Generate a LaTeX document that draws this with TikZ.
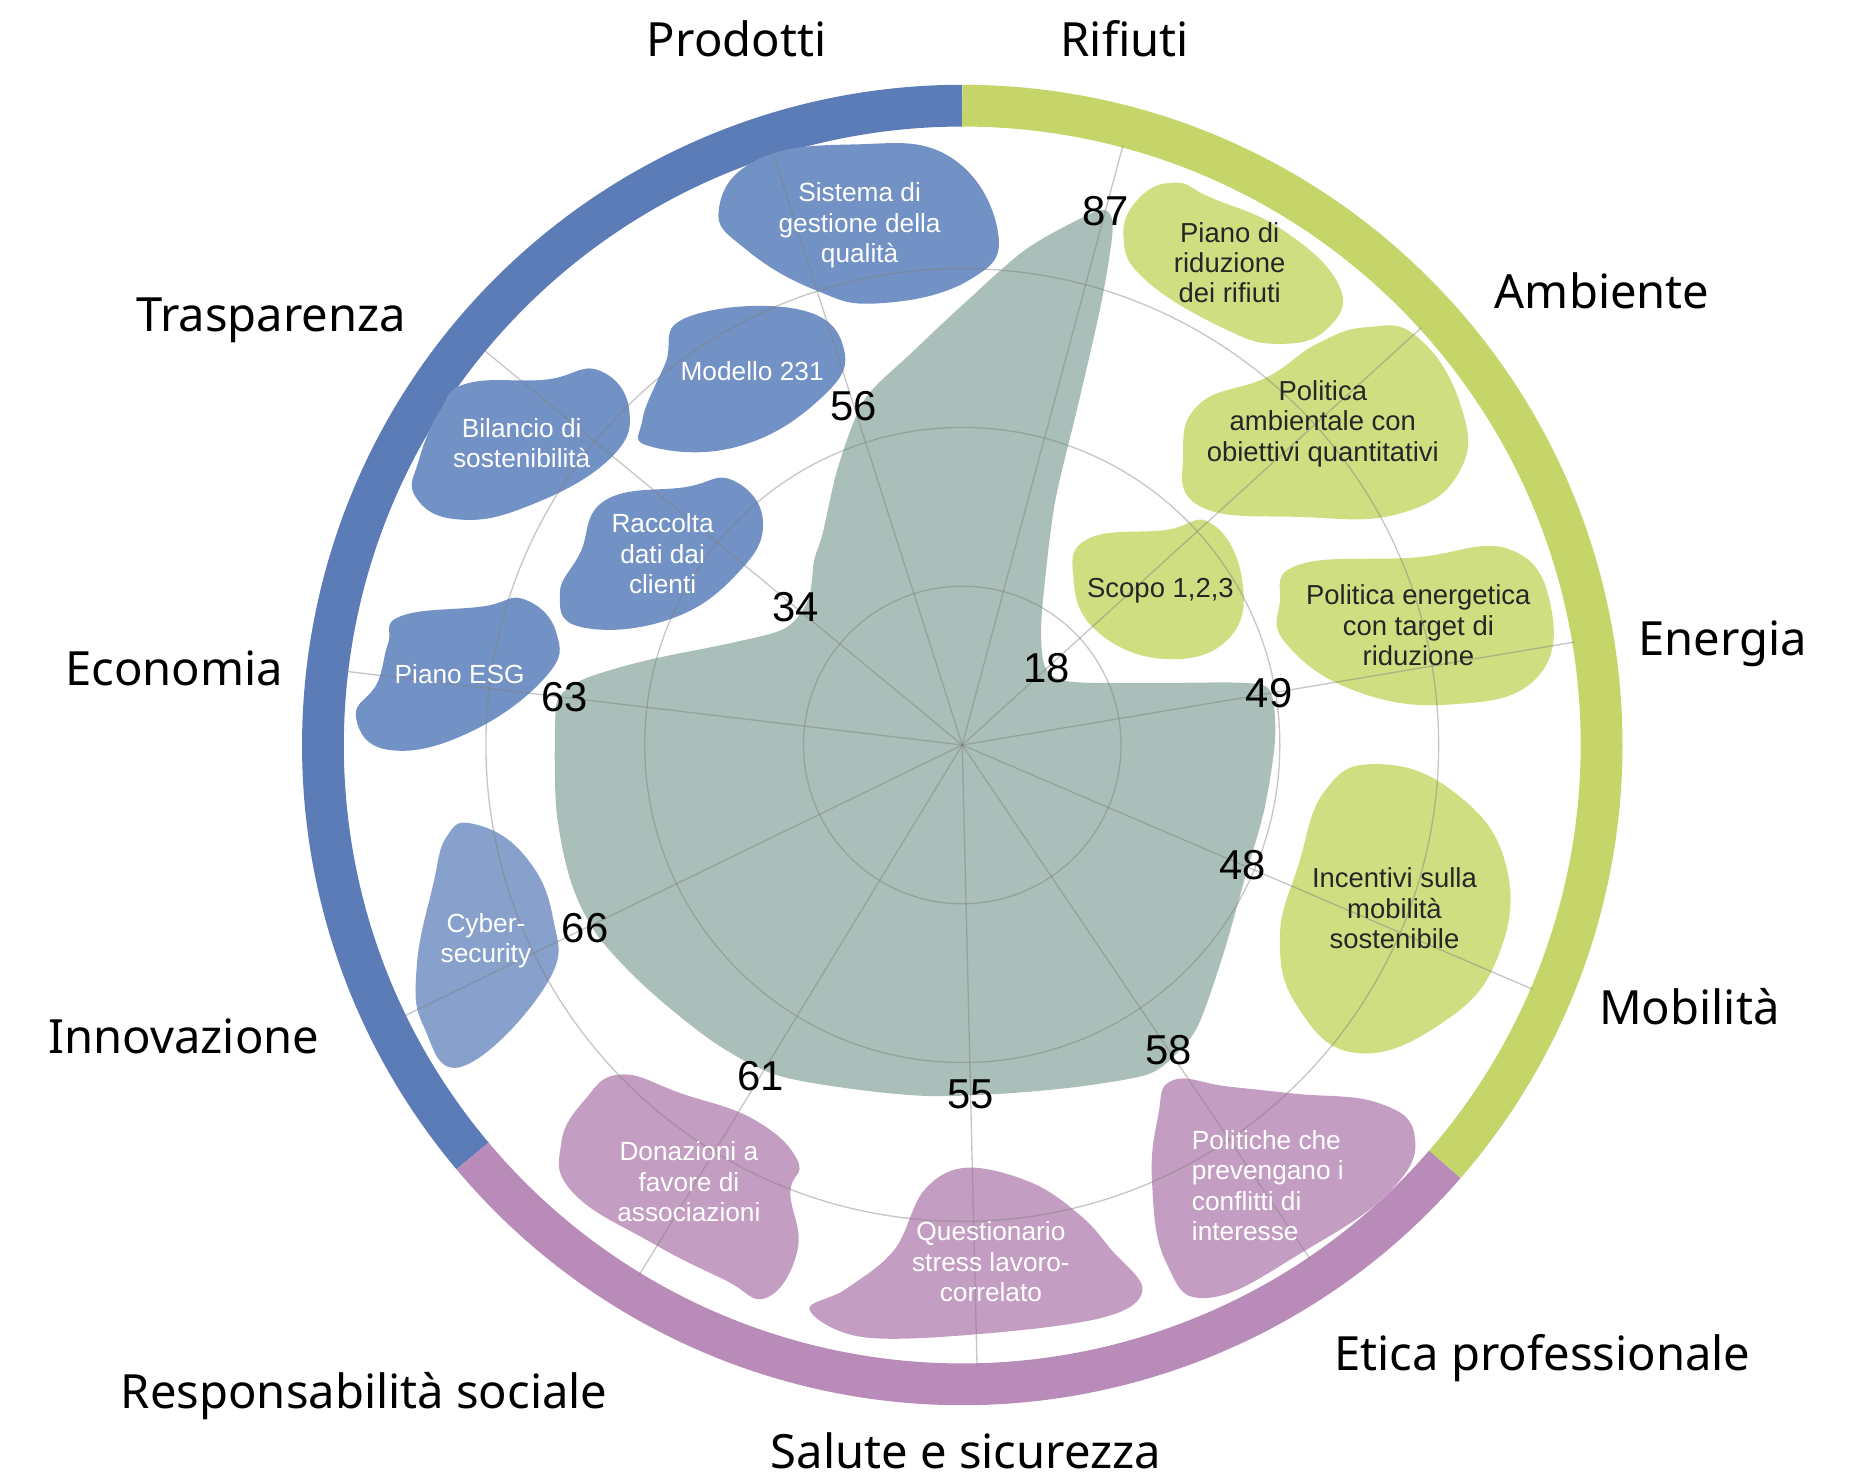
\documentclass[tikz,border=0pt]{standalone}
\usepackage{fontspec}
\setmainfont{Liberation Sans}
\newfontfamily\catfont{Noto Sans}
\usetikzlibrary{calc}
\definecolor{bandblue}{HTML}{5C7CB8}
\definecolor{bandgreen}{HTML}{C5D56A}
\definecolor{bandpurple}{HTML}{B98BB8}
\definecolor{blobblue}{HTML}{7291C4}
\definecolor{blobcyber}{HTML}{88A1CC}
\definecolor{blobgreen}{HTML}{CFDE80}
\definecolor{blobpurple}{HTML}{C49EC2}
\definecolor{radarfill}{HTML}{AABFBA}
\tikzset{band/.style = {line width=35pt}}
\tikzset{gridline/.style = {draw=black!50, line width=1.1pt, draw opacity=0.45}}
\tikzset{blobtext/.style = {align=center, inner sep=0, text=white,
                            font=\fontsize{22}{25.5}\selectfont}}
\tikzset{greentext/.style = {blobtext, text=black!85,
                             font=\fontsize{23}{25.5}\selectfont}}
\tikzset{catlabel/.style = {anchor=base, inner sep=0, font=\catfont\fontsize{39.5}{45}\selectfont}}
\tikzset{vallabel/.style = {inner sep=0, font=\fontsize{35}{40}\selectfont}}

\begin{document}
\begin{tikzpicture}[x=1pt, y=-1pt]
  \useasboundingbox (0,0) rectangle (1568,1240);
  \coordinate (c) at (806,624);

  % coloured ring
  \draw [band, bandblue] ($(c)+(140:535.5)$) arc [start angle=140, end angle=270, radius=535.5];
  \draw [band, bandgreen] ($(c)+(-90:535.5)$) arc [start angle=-90, end angle=41, radius=535.5];
  \draw [band, bandpurple] ($(c)+(41:535.5)$) arc [start angle=41, end angle=140, radius=535.5];

  % radar area
  \fill [radarfill] plot [smooth cycle, tension=0.5] coordinates {
    (926,176) (932,192) (923,251) (904,335) (884,419) (875,489) (872,530)
    (876,560) (897,571) (970,572) (1042,572) (1064,579) (1068,619) (1059,678)
    (1042,738) (1025,798) (1004,858) (985,883) (961,900) (905,910) (841,916)
    (777,918) (713,912) (649,900) (598,873) (542,828) (500,783) (478,738)
    (466,678) (465,604) (469,583) (491,568) (542,553) (615,538) (658,526)
    (677,502) (682,469) (689,447) (702,391) (724,335) (763,296) (811,251)
    (859,209) (907,182)};

  % blue blobs
  \fill [blobblue] plot [smooth cycle, tension=0.75] coordinates {
    (602,176) (634,134) (714,121) (795,131) (836,195) (811,235) (737,254) (683,243) (625,209)};
  \fill [blobblue] plot [smooth cycle, tension=0.75] coordinates {
    (575,266) (668,259) (707,293) (686,335) (618,374) (545,374) (538,352) (557,305)};
  \fill [blobblue] plot [smooth cycle, tension=0.75] coordinates {
    (392,321) (457,318) (501,310) (527,343) (510,385) (442,424) (383,435) (348,416) (351,385) (369,343)};
  \fill [blobblue] plot [smooth cycle, tension=0.75] coordinates {
    (507,419) (574,408) (613,402) (639,436) (618,480) (560,519) (486,525) (469,497) (486,463)};
  \fill [blobblue] plot [smooth cycle, tension=0.75] coordinates {
    (336,516) (404,508) (439,502) (466,530) (457,567) (392,614) (325,628) (298,600) (316,572) (325,539)};
  \fill [blobcyber] plot [smooth cycle, tension=0.75] coordinates {
    (396,690) (438,715) (463,768) (458,824) (388,893) (355,860) (349,810) (363,740) (374,701)};

  % green blobs
  \fill [blobgreen] plot [smooth cycle, tension=0.75] coordinates {
    (955,165) (985,153) (1013,165) (1075,193) (1122,240) (1111,276) (1072,288) (1027,276) (960,235) (941,198)};
  \fill [blobgreen] plot [smooth cycle, tension=0.75] coordinates {
    (1145,274) (1187,282) (1223,338) (1223,394) (1173,430) (1089,433) (1005,424) (991,380) (1005,338) (1061,316) (1103,288)};
  \fill [blobgreen] plot [smooth cycle, tension=0.75] coordinates {
    (912,451) (976,444) (1014,438) (1040,483) (1030,534) (976,552) (918,528) (899,483)};
  \fill [blobgreen] plot [smooth cycle, tension=0.75] coordinates {
    (1088,473) (1184,467) (1264,460) (1299,508) (1286,569) (1216,590) (1136,579) (1078,540) (1072,505)};
  \fill [blobgreen] plot [smooth cycle, tension=0.75] coordinates {
    (1152,640) (1216,662) (1261,723) (1254,803) (1206,858) (1136,882) (1088,845) (1072,787) (1088,723) (1110,662)};

  % purple blobs
  \fill [blobpurple] plot [smooth cycle, tension=0.75] coordinates {
    (982,905) (1028,910) (1084,916) (1155,924) (1185,952) (1165,997) (1094,1047) (1013,1087) (977,1058) (965,991) (970,935)};
  \fill [blobpurple] plot [smooth cycle, tension=0.6] coordinates {
    (810,978) (865,991) (906,1019) (931,1047) (957,1080) (926,1103) (825,1117) (723,1120) (678,1097) (708,1080) (749,1047) (774,997)};
  \fill [blobpurple] plot [smooth cycle, tension=0.75] coordinates {
    (520,900) (571,916) (632,938) (668,972) (662,999) (668,1047) (642,1087) (607,1072) (546,1041) (480,999) (470,958) (490,921)};

  % grid
  \foreach \r in {133,266,399}
    \draw [gridline] (c) circle [radius=\r];
  \foreach \i in {0,...,10} {
    \coordinate (s\i) at ($(c)+({-75+\i*360/11}:520)$);
    \draw [gridline] (c) -- (s\i);
  }

  % values
  \foreach \v [count=\i from 0] in {87,18,49,48,58,55,61,66,63,34,56}
    \node [vallabel] (v\i) at ($(c)+({-75+\i*360/11}:{\v*5.32})$) {\v};

  % blob texts
  \node [blobtext] (qualita) at (720,189) {Sistema di\\gestione della\\qualità};
  \node [blobtext] (modello) at (630,311) {Modello 231};
  \node [blobtext] (bilancio) at (437,371) {Bilancio di\\sostenibilità};
  \node [blobtext] (raccolta) at (555,464) {Raccolta\\dati dai\\clienti};
  \node [blobtext] (esg) at (385,565) {Piano ESG};
  \node [blobtext] (cyber) at (407,788) {Cyber-\\security};
  \node [greentext] (rifiuti) at (1030,220) {Piano di\\riduzione\\dei rifiuti};
  \node [greentext] (ambientale) at (1108,355) {Politica\\ambientale con\\obiettivi quantitativi};
  \node [greentext] (scopo) at (972,495) {Scopo 1,2,3};
  \node [greentext] (energetica) at (1188,524) {Politica energetica\\con target di\\riduzione};
  \node [greentext] (incentivi) at (1168,761) {Incentivi sulla\\mobilità\\sostenibile};
  \node [blobtext, align=left] (conflitti) at (1062,993) {Politiche che\\prevengano i\\conflitti di\\interesse};
  \node [blobtext] (stress) at (830,1057) {Questionario\\stress lavoro-\\correlato};
  \node [blobtext] (donazioni) at (577,990) {Donazioni a\\favore di\\associazioni};

  % category labels
  \node [catlabel] (prodotti) at (617,47) {Prodotti};
  \node [catlabel] (rifiuticat) at (942,47) {Rifiuti};
  \node [catlabel] (ambiente) at (1342,258) {Ambiente};
  \node [catlabel] (energia) at (1443,549) {Energia};
  \node [catlabel] (mobilita) at (1415,858) {Mobilità};
  \node [catlabel] (etica) at (1292,1148) {Etica professionale};
  \node [catlabel] (salute) at (809,1230) {Salute e sicurezza};
  \node [catlabel] (sociale) at (305,1180) {Responsabilità sociale};
  \node [catlabel] (innovazione) at (154,882) {Innovazione};
  \node [catlabel] (economia) at (146,574) {Economia};
  \node [catlabel] (trasparenza) at (227,278) {Trasparenza};
\end{tikzpicture}
\end{document}
